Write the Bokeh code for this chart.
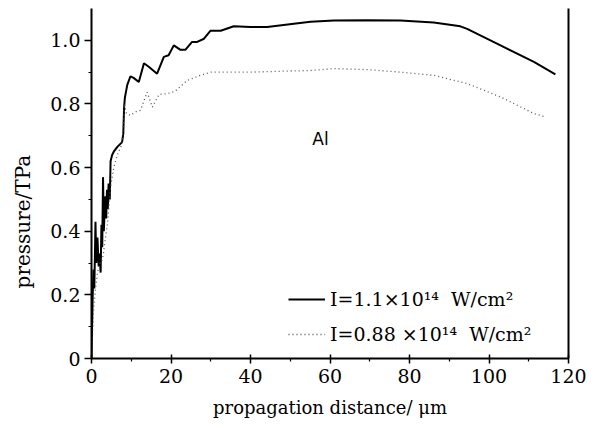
from bokeh.plotting import figure
from bokeh.models import (Range1d, FixedTicker, CustomJSTickFormatter, LinearAxis,
                          Legend, LegendItem, Label)
from bokeh.embed import file_html
from bokeh.resources import INLINE

# Data
x_high = [0, 0.3, 0.5, 0.7, 0.9, 1.0, 1.2, 1.5, 1.8, 2.0, 2.3, 2.5, 2.7, 2.9, 3.1, 3.3,
          3.5, 3.7, 3.9, 4.1, 4.3, 4.6, 4.8, 5.2, 5.6, 6.5, 7.7, 8.0, 8.2, 8.4, 9.0, 9.8,
          10.6, 11.9, 13.2, 14.4, 16.5, 18.2, 19.4, 20.7, 22.4, 23.6, 25.3, 26.6, 28.3,
          29.9, 32.5, 35.8, 40, 44.2, 50.9, 55.1, 61, 69.4, 77.7, 86.1, 92.8, 94.5,
          102.9, 111.3, 116.7]
y_high = [0, 0.2, 0.28, 0.22, 0.35, 0.43, 0.3, 0.38, 0.29, 0.33, 0.27, 0.42, 0.35, 0.57,
          0.40, 0.46, 0.51, 0.44, 0.53, 0.47, 0.55, 0.50, 0.62, 0.64, 0.65, 0.665, 0.68,
          0.707, 0.79, 0.82, 0.86, 0.887, 0.882, 0.869, 0.928, 0.917, 0.895, 0.948, 0.953,
          0.984, 0.97, 0.97, 0.995, 0.995, 1.005, 1.03, 1.03, 1.044, 1.042, 1.042, 1.052,
          1.058, 1.062, 1.063, 1.062, 1.056, 1.044, 1.036, 0.984, 0.932, 0.893]

x_low = [0, 0.5, 1, 1.5, 2, 2.5, 3, 3.5, 4, 4.8, 5.6, 6.5, 7.7, 8.3, 8.8, 9.8, 11, 12.3,
         14, 15.3, 17, 19, 21, 24.1, 27.4, 30, 35, 40, 48.4, 55, 61, 69.4, 77.7, 86.1,
         94.5, 102.9, 111.3, 114]
y_low = [0, 0.15, 0.22, 0.27, 0.3, 0.3, 0.33, 0.38, 0.42, 0.54, 0.6, 0.64, 0.675, 0.8,
         0.77, 0.764, 0.775, 0.78, 0.837, 0.79, 0.83, 0.832, 0.84, 0.874, 0.89, 0.9, 0.9,
         0.90, 0.903, 0.905, 0.911, 0.908, 0.90, 0.89, 0.864, 0.822, 0.77, 0.76]

x_ticks = [0, 20, 40, 60, 80, 100, 120]
y_ticks = [0, 0.2, 0.4, 0.6, 0.8, 1.0]
label_high = "I=1.1×10¹⁴  W/cm²"
label_low = "I=0.88 ×10¹⁴  W/cm²"
material = "Al"
x_title = "propagation distance/ μm"
y_title = "pressure/TPa"

SERIF = "DejaVu Serif"

p = figure(width=598, height=420, output_backend="svg", toolbar_location=None,
           x_range=Range1d(0, 120), y_range=Range1d(0, 1.1),
           min_border_left=91, min_border_right=30, min_border_top=8, min_border_bottom=62)
p.outline_line_color = None
p.xgrid.visible = False
p.ygrid.visible = False
p.background_fill_color = "white"
p.border_fill_color = "white"

r1 = p.line(x_high, y_high, line_color="black", line_width=2)
r2 = p.line(x_low, y_low, line_color="#555555", line_width=1.3, line_dash="1 3")

xa = p.xaxis[0]
xa.ticker = FixedTicker(ticks=x_ticks, minor_ticks=[10, 30, 50, 70, 90, 110])
xa.formatter = CustomJSTickFormatter(code="return tick.toFixed(0);")
xa.axis_label = x_title
ya = p.yaxis[0]
ya.ticker = FixedTicker(ticks=y_ticks, minor_ticks=[0.1, 0.3, 0.5, 0.7, 0.9])
ya.formatter = CustomJSTickFormatter(code="return tick == 0 ? '0' : tick.toFixed(1);")
# trailing no-break spaces shift the visible title down like in the original
ya.axis_label = y_title + "\u00a0" * 12

for ax in (xa, ya):
    ax.axis_line_width = 2
    ax.axis_line_color = "black"
    ax.major_tick_line_width = 1.5
    ax.minor_tick_line_width = 1.2
    ax.major_label_text_font = SERIF
    ax.major_label_text_font_size = "19px"
    ax.major_label_text_color = "black"
    ax.axis_label_text_font = SERIF
    ax.axis_label_text_font_size = "18px"
    ax.axis_label_text_font_style = "normal"
    ax.axis_label_text_color = "black"

ya.axis_label_text_font_size = "20px"

xa.major_tick_in = 4
xa.major_tick_out = 5
xa.minor_tick_in = 0
xa.minor_tick_out = 3
xa.major_label_standoff = 5
xa.axis_label_standoff = 11

ya.major_tick_in = 0
ya.major_tick_out = 7
ya.minor_tick_in = 0
ya.minor_tick_out = 3
ya.major_label_standoff = 4
ya.axis_label_standoff = 12

ra = LinearAxis(ticker=FixedTicker(ticks=[]), axis_line_width=2, axis_line_color="black",
                major_tick_line_color=None, minor_tick_line_color=None,
                major_label_text_font_size="0px")
p.add_layout(ra, "right")

legend = Legend(items=[LegendItem(label=label_high, renderers=[r1]),
                       LegendItem(label=label_low, renderers=[r2])],
                location=(197, 13), orientation="vertical",
                border_line_color=None, background_fill_alpha=0,
                padding=0, margin=0, spacing=13, glyph_width=37, glyph_height=20,
                label_standoff=5, label_height=20,
                label_text_font=SERIF, label_text_font_size="19px",
                label_text_color="black")
p.add_layout(legend)

p.add_layout(Label(x=57.6, y=0.689, text=material, text_align="center",
                   text_baseline="middle", text_font="DejaVu Sans",
                   text_font_size="17px", text_color="black"))

open("out.html", "w").write(file_html(p, INLINE))
